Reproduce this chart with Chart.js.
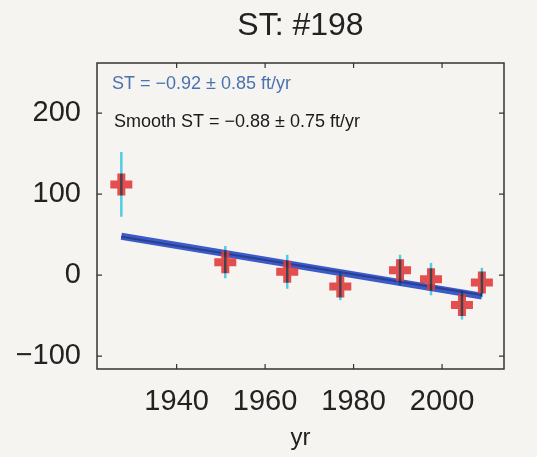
<!DOCTYPE html>
<html>
<head>
<meta charset="utf-8">
<script src="https://cdn.jsdelivr.net/npm/chart.js@4.4.1/dist/chart.umd.min.js"></script>
<style>
  html, body { margin: 0; padding: 0; background: #f6f4f1; }
  #wrap { width: 537px; height: 457px; position: relative; }
</style>
</head>
<body>
<div id="wrap"><canvas id="stChart"></canvas></div>
<script>
// datos
const years = [1927.5, 1951, 1965, 1977, 1990.5, 1997.5, 2004.5, 2009];
const stValues = [112, 16, 4, -14, 6, -5, -37, -9];
const stErrors = [40, 20, 21, 17, 19, 20, 18, 18];
const fitYears = [1927.5, 2009];
const fitST = [48, -26];
const fitSmooth = [47.5, -24.5];
const xTicks = [1940, 1960, 1980, 2000];
const yTicks = [-100, 0, 100, 200];
const titleText = 'ST: #198';
const noteST = 'ST = \u22120.92 \u00b1 0.85 ft/yr';
const noteSmooth = 'Smooth ST = \u22120.88 \u00b1 0.75 ft/yr';

const fontName = '"Liberation Sans", Arial, sans-serif';

// Caja, marcas hacia adentro, titulo y notas
const boxPlugin = {
    id: 'boxPlugin',
    afterDraw(chart) {
        const ctx = chart.ctx;
        const a = chart.chartArea;
        const xs = chart.scales.x;
        const ys = chart.scales.y;
        ctx.save();
        ctx.strokeStyle = '#333';
        ctx.lineWidth = 1.5;
        ctx.strokeRect(a.left, a.top, a.right - a.left, a.bottom - a.top);
        ctx.lineWidth = 1.2;
        ctx.beginPath();
        xTicks.forEach(function (t) {
            const px = xs.getPixelForValue(t);
            ctx.moveTo(px, a.bottom); ctx.lineTo(px, a.bottom - 5);
            ctx.moveTo(px, a.top); ctx.lineTo(px, a.top + 5);
        });
        yTicks.forEach(function (t) {
            const py = ys.getPixelForValue(t);
            ctx.moveTo(a.left, py); ctx.lineTo(a.left + 5, py);
            ctx.moveTo(a.right, py); ctx.lineTo(a.right - 5, py);
        });
        ctx.stroke();

        ctx.fillStyle = '#222';
        ctx.font = '32px ' + fontName;
        ctx.textAlign = 'center';
        ctx.textBaseline = 'middle';
        ctx.fillText(titleText, (a.left + a.right) / 2, 26);

        ctx.textAlign = 'left';
        ctx.font = '18px ' + fontName;
        ctx.fillStyle = '#4a72b0';
        ctx.fillText(noteST, a.left + 15, 84);
        ctx.fillStyle = '#1a1a1a';
        ctx.fillText(noteSmooth, a.left + 17, 122);
        ctx.restore();
    }
};

// Barras de error (cian) sobre los marcadores
const errorBarPlugin = {
    id: 'errorBarPlugin',
    afterDatasetsDraw(chart) {
        const ctx = chart.ctx;
        const xs = chart.scales.x;
        const ys = chart.scales.y;
        ctx.save();
        ctx.globalCompositeOperation = 'multiply';
        ctx.strokeStyle = '#52cde3';
        ctx.lineWidth = 2.5;
        ctx.beginPath();
        years.forEach(function (yr, i) {
            const px = xs.getPixelForValue(yr);
            ctx.moveTo(px, ys.getPixelForValue(stValues[i] + stErrors[i]));
            ctx.lineTo(px, ys.getPixelForValue(stValues[i] - stErrors[i]));
        });
        ctx.stroke();
        ctx.restore();
    }
};

const ctx = document.getElementById('stChart').getContext('2d');
const stChart = new Chart(ctx, {
    type: 'scatter',
    data: {
        datasets: [
            {
                label: 'ST',
                data: years.map(function (yr, i) { return { x: yr, y: stValues[i] }; }),
                pointStyle: 'cross',
                pointRadius: 11,
                pointBorderWidth: 8,
                borderColor: 'rgba(226, 60, 60, 0.9)',
                backgroundColor: 'rgba(226, 60, 60, 0.9)'
            },
            {
                label: 'Smooth fit',
                data: fitYears.map(function (yr, i) { return { x: yr, y: fitSmooth[i] }; }),
                showLine: true,
                pointRadius: 0,
                borderColor: '#2a3f8f',
                borderWidth: 2
            },
            {
                label: 'Fit',
                data: fitYears.map(function (yr, i) { return { x: yr, y: fitST[i] }; }),
                showLine: true,
                pointRadius: 0,
                borderColor: '#3b5bc9',
                borderWidth: 7
            }
        ]
    },
    options: {
        responsive: true,
        maintainAspectRatio: false,
        animation: false,
        layout: {
            padding: { top: 63, right: 33, bottom: 0, left: 0 }
        },
        plugins: {
            legend: { display: false },
            tooltip: { enabled: false }
        },
        scales: {
            x: {
                type: 'linear',
                min: 1922,
                max: 2014,
                afterBuildTicks: function (scale) {
                    scale.ticks = xTicks.map(function (v) { return { value: v }; });
                },
                afterFit: function (scale) { scale.height = 88; },
                grid: { display: false },
                border: { display: false },
                ticks: {
                    padding: 8,
                    color: '#222',
                    font: { family: fontName, size: 29 },
                    callback: function (v) { return String(v); }
                },
                title: {
                    display: true,
                    text: 'yr',
                    color: '#222',
                    padding: { top: 0, bottom: 4 },
                    font: { family: fontName, size: 24 }
                }
            },
            y: {
                min: -116,
                max: 262,
                afterBuildTicks: function (scale) {
                    scale.ticks = yTicks.map(function (v) { return { value: v }; });
                },
                afterFit: function (scale) { scale.width = 97; },
                grid: { display: false },
                border: { display: false },
                ticks: {
                    padding: 8,
                    color: '#222',
                    font: { family: fontName, size: 29 },
                    callback: function (v) { return v < 0 ? '\u2212' + Math.abs(v) : String(v); }
                }
            }
        }
    },
    plugins: [boxPlugin, errorBarPlugin]
});
</script>
</body>
</html>
